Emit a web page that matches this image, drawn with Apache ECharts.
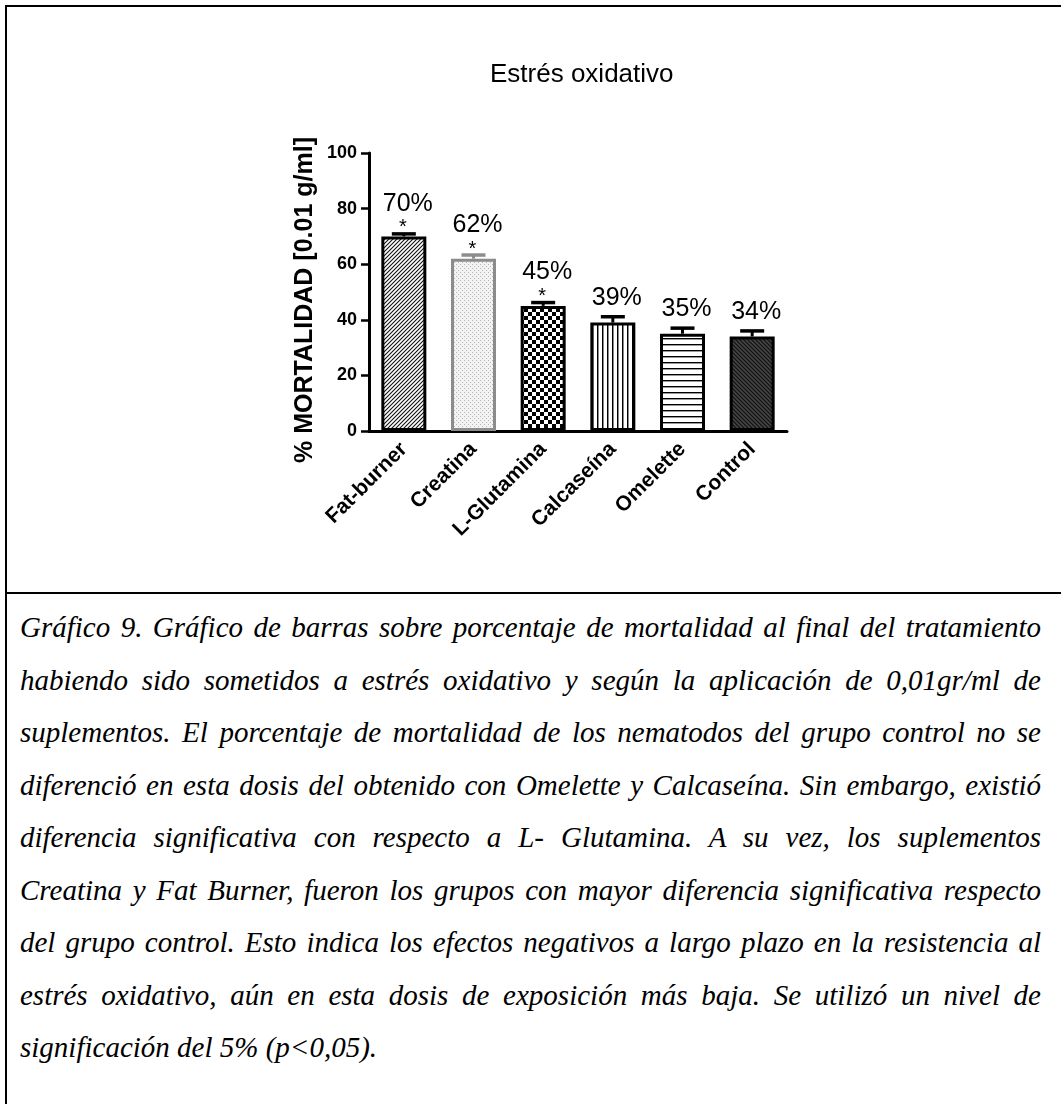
<!DOCTYPE html>
<html lang="es">
<head>
<meta charset="utf-8">
<title>Estrés oxidativo</title>
<script src="https://cdn.jsdelivr.net/npm/echarts@6/dist/echarts.min.js"></script>
<style>
  html, body { margin: 0; padding: 0; background: #fff; }
  #page { position: relative; width: 1061px; height: 1104px; overflow: hidden; background: #fff; }
  #chart { position: absolute; left: 0; top: 0; width: 1061px; height: 592px; }
  .rule { position: absolute; background: #000; }
  #caption {
    position: absolute; left: 20px; width: 1021px; top: 601px;
    font-family: "Liberation Serif", "Times New Roman", serif;
    font-style: italic; font-size: 29px; line-height: 52.5px; color: #000;
  }
  #caption .ln { text-align: justify; text-align-last: justify; white-space: nowrap; }
  #caption .ln.last { text-align: left; text-align-last: left; }
</style>
</head>
<body>
<div id="page">
  <div id="chart"></div>
  <div class="rule" style="left:5px;top:5px;width:1056px;height:2px"></div>
  <div class="rule" style="left:5px;top:5px;width:2px;height:1099px"></div>
  <div class="rule" style="left:5px;top:592px;width:1056px;height:2px"></div>
  <div id="caption"></div>
</div>
<script>
// Mortality (%) at the end of treatment under oxidative stress, 0.01 g/ml dose
const categories = ['Fat-burner', 'Creatina', 'L-Glutamina', 'Calcaseína', 'Omelette', 'Control'];
const mortality = [70, 62, 45, 39, 35, 34];
const sem = [0.9, 1.3, 1.2, 2.1, 2.0, 2.0];
const significant = [true, true, true, false, false, false];
const yMin = 0, yMax = 100, yStep = 20;

const chartTitle = 'Estrés oxidativo';
const yAxisTitle = '% MORTALIDAD [0.01 g/ml]';
const captionLines = [
  'Gráfico 9. Gráfico de barras sobre porcentaje de mortalidad al final del tratamiento',
  'habiendo sido sometidos a estrés oxidativo y según la aplicación de 0,01gr/ml de',
  'suplementos. El porcentaje de mortalidad de los nematodos del grupo control no se',
  'diferenció en esta dosis del obtenido con Omelette y Calcaseína. Sin embargo, existió',
  'diferencia significativa con respecto a L- Glutamina. A su vez, los suplementos',
  'Creatina y Fat Burner, fueron los grupos con mayor diferencia significativa respecto',
  'del grupo control. Esto indica los efectos negativos a largo plazo en la resistencia al',
  'estrés oxidativo, aún en esta dosis de exposición más baja. Se utilizó un nivel de',
  'significación del 5% (p<0,05).'
];

// Caption block, one justified line per row
const cap = document.getElementById('caption');
captionLines.forEach((t, i) => {
  const d = document.createElement('div');
  d.className = 'ln' + (i === captionLines.length - 1 ? ' last' : '');
  d.textContent = t;
  cap.appendChild(d);
});

// Hatch / fill tiles for each bar
function tile(w, h, draw) {
  const c = document.createElement('canvas');
  c.width = w; c.height = h;
  draw(c.getContext('2d'), w, h);
  return c;
}
const fills = [
  // forward diagonal hatch
  tile(4, 4, (g, w, h) => {
    g.fillStyle = '#fff'; g.fillRect(0, 0, w, h);
    g.strokeStyle = '#111'; g.lineWidth = 1.1; g.beginPath();
    g.moveTo(-1, h + 1); g.lineTo(w + 1, -1);
    g.moveTo(-1, 1); g.lineTo(1, -1);
    g.moveTo(w - 1, h + 1); g.lineTo(w + 1, h - 1);
    g.stroke();
  }),
  // fine light-grey dots
  tile(4, 4, (g, w, h) => {
    g.fillStyle = '#f3f3f3'; g.fillRect(0, 0, w, h);
    g.fillStyle = '#b4b4b4'; g.fillRect(0, 0, 1, 1); g.fillRect(2, 2, 1, 1);
  }),
  // checkerboard
  tile(8, 8, (g, w, h) => {
    g.fillStyle = '#fff'; g.fillRect(0, 0, w, h);
    g.fillStyle = '#000'; g.fillRect(0, 0, 4, 4); g.fillRect(4, 4, 4, 4);
  }),
  // vertical lines
  tile(5, 4, (g, w, h) => {
    g.fillStyle = '#fff'; g.fillRect(0, 0, w, h);
    g.fillStyle = '#000'; g.fillRect(2, 0, 1, h);
    g.fillStyle = '#888'; g.fillRect(3, 0, 1, h);
  }),
  // horizontal lines
  tile(4, 6, (g, w, h) => {
    g.fillStyle = '#fff'; g.fillRect(0, 0, w, h);
    g.fillStyle = '#000'; g.fillRect(0, 2, w, 1);
    g.fillStyle = '#999'; g.fillRect(0, 3, w, 1);
  }),
  // dark fill with backward diagonal hatch
  tile(4, 4, (g, w, h) => {
    g.fillStyle = '#444'; g.fillRect(0, 0, w, h);
    g.strokeStyle = '#111'; g.lineWidth = 1.2; g.beginPath();
    g.moveTo(-1, -1); g.lineTo(w + 1, h + 1);
    g.moveTo(w - 1, -1); g.lineTo(w + 1, 1);
    g.moveTo(-1, h - 1); g.lineTo(1, h + 1);
    g.stroke();
  })
];
const outline = ['#000', '#8c8c8c', '#000', '#000', '#000', '#000'];

const SANS = '"Liberation Sans", Arial, Helvetica, sans-serif';
const chart = echarts.init(document.getElementById('chart'), null, { renderer: 'canvas' });

chart.setOption({
  animation: false,
  backgroundColor: 'transparent',
  title: {
    text: chartTitle,
    left: 490, top: 62, padding: 0,
    textStyle: { fontFamily: SANS, fontSize: 26, fontWeight: 'normal', color: '#000', lineHeight: 26 }
  },
  grid: { left: 369, top: 153, width: 418, height: 278, containLabel: false, outerBoundsMode: 'none' },
  xAxis: {
    type: 'category',
    data: categories,
    axisLine: { lineStyle: { color: '#000', width: 3 } },
    axisTick: { alignWithLabel: true, length: 9, lineStyle: { color: '#000', width: 2.5 } },
    axisLabel: {
      interval: 0, rotate: 45, margin: 15,
      fontFamily: SANS, fontSize: 21, fontWeight: 'bold', color: '#000'
    },
    splitLine: { show: false }
  },
  yAxis: {
    type: 'value',
    min: yMin, max: yMax, interval: yStep,
    name: yAxisTitle,
    nameLocation: 'middle',
    nameRotate: 90,
    nameGap: 51,
    nameTextStyle: { fontFamily: SANS, fontSize: 25, fontWeight: 'bold', color: '#000', padding: [0, 16, 0, 0] },
    axisLine: { show: true, lineStyle: { color: '#000', width: 3 } },
    axisTick: { show: true, length: 8, lineStyle: { color: '#000', width: 2.5 } },
    axisLabel: { margin: 12, fontFamily: SANS, fontSize: 18, fontWeight: 'bold', color: '#000' },
    splitLine: { show: false }
  },
  series: [
    {
      type: 'bar',
      silent: true,
      barWidth: 45,
      data: mortality.map((v, i) => ({
        value: v,
        itemStyle: {
          color: { image: fills[i], repeat: 'repeat' },
          borderColor: outline[i],
          borderWidth: 3
        }
      }))
    },
    {
      // error bars, value labels and significance marks
      type: 'custom',
      silent: true,
      z: 5,
      data: mortality.map((v, i) => [i, v, sem[i], significant[i] ? 1 : 0]),
      renderItem(params, api) {
        const i = api.value(0), v = api.value(1), e = api.value(2), sig = api.value(3);
        const top = api.coord([i, v]);
        const capPt = api.coord([i, v + e]);
        const col = outline[i];
        const children = [
          { type: 'line', shape: { x1: top[0], y1: top[1], x2: capPt[0], y2: capPt[1] },
            style: { stroke: col, lineWidth: 3 } },
          { type: 'line', shape: { x1: capPt[0] - 12, y1: capPt[1], x2: capPt[0] + 12, y2: capPt[1] },
            style: { stroke: col, lineWidth: 3.5 } },
          { type: 'text',
            style: { text: v + '%', x: capPt[0] + 4, y: capPt[1] - (sig ? 30 : 19),
              fontFamily: SANS, fontSize: 25, fill: '#000', align: 'center', verticalAlign: 'middle' } }
        ];
        if (sig) {
          children.push({ type: 'text',
            style: { text: '*', x: capPt[0] - 1, y: capPt[1] - 6,
              fontFamily: SANS, fontSize: 20, fill: '#000', align: 'center', verticalAlign: 'middle' } });
        }
        return { type: 'group', children };
      }
    }
  ]
});
</script>
</body>
</html>
